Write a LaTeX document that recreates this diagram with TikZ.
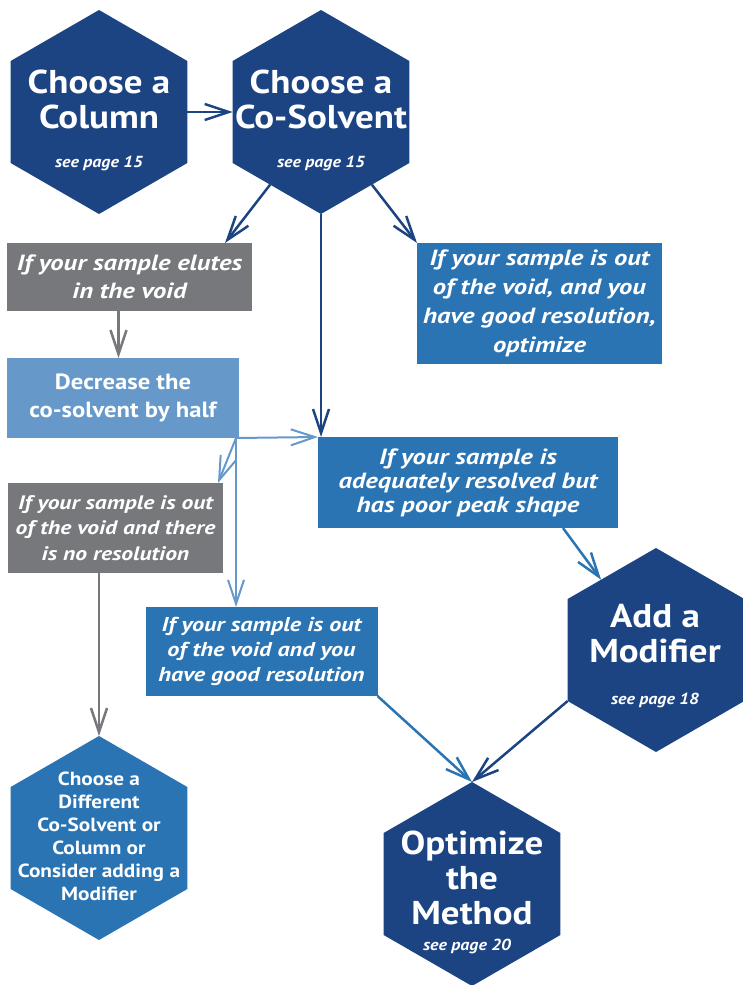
\documentclass[tikz,border=0pt]{standalone}
\usepackage{fontspec}
\setmainfont{PT Sans}[FakeStretch=1.12]
\newfontfamily\condfont{PT Sans}[FakeStretch=1.21]
\usepackage{xcolor}
\usetikzlibrary{shapes.geometric,arrows.meta}

\definecolor{navy}{RGB}{28,68,130}
\definecolor{midblue}{RGB}{43,116,180}
\definecolor{paleblue}{RGB}{102,153,202}
\definecolor{slate}{RGB}{119,120,123}

\tikzset{
  hexcell/.style={regular polygon, regular polygon sides=6, shape border rotate=90,
    minimum size=204pt, inner sep=0pt, outer sep=0pt, fill=#1},
  hexcell/.default=navy,
  hextitle/.style={text=white, align=center, font=\bfseries\fontsize{33}{35}\selectfont},
  hexsmall/.style={text=white, align=center, font=\bfseries\fontsize{19}{23}\selectfont},
  pagenote/.style={text=white, anchor=base, font=\bfseries\itshape\fontsize{16}{18}\selectfont},
  condbox/.style={rectangle, fill=#1, text=white, align=center, inner sep=0pt, outer sep=0pt},
  itxt/.style 2 args={font=\condfont\bfseries\itshape\fontsize{#1}{#2}\selectfont},
  flow/.style={draw=#1, line width=2.5pt, -{Straight Barb[length=24pt,width=16pt]}},
}

\begin{document}
\begin{tikzpicture}[x=1pt, y=-1pt]
\useasboundingbox (0,0) rectangle (743,985);
% the hexagons
\node[hexcell] (column) at (99,112) {};
\node[hexcell] (cosolvent) at (321,112) {};
\node[hexcell] (modifier) at (656,650) {};
\node[hexcell] (method) at (472,884) {};
\node[hexcell=midblue] (different) at (99,838) {};
% their texts
\node[hextitle] (column-txt) at (99,99) {Choose a\\Column};
\node[pagenote] (column-pg) at (99,167) {see page 15};
\node[hextitle] (cosolvent-txt) at (321,99) {Choose a\\Co-Solvent};
\node[pagenote] (cosolvent-pg) at (321,167) {see page 15};
\node[hextitle] (modifier-txt) at (655,634) {Add a\\Modifier};
\node[pagenote] (modifier-pg) at (655,704) {see page 18};
\node[hextitle] (method-txt) at (472,878) {Optimize\\the\\Method};
\node[pagenote] (method-pg) at (467,950) {see page 20};
\node[hexsmall] (different-txt) at (99,836) {Choose a\\Different\\Co-Solvent or\\Column or\\Consider adding a\\Modifier};
% the boxes
\node[condbox=slate, minimum width=245pt, minimum height=68pt, itxt={22}{28}] (elutes) at (129.5,277) {If your sample elutes\\in the void};
\node[condbox=paleblue, minimum width=232pt, minimum height=80pt, font=\bfseries\fontsize{22}{28}\selectfont] (decrease) at (123,398) {Decrease the\\co-solvent by half};
\node[condbox=slate, minimum width=215pt, minimum height=90pt, itxt={19.5}{25.5}] (noresol) at (115.5,528) {If your sample is out\\of the void and there\\is no resolution};
\node[condbox=midblue, minimum width=245pt, minimum height=121pt, itxt={22}{29}] (optbox) at (539.5,303.5) {If your sample is out\\of the void, and you\\have good resolution,\\optimize};
\node[condbox=midblue, minimum width=300pt, minimum height=91pt, itxt={22}{24}] (poorpeak) at (468,482.5) {If your sample is\\adequately resolved but\\has poor peak shape};
\node[condbox=midblue, minimum width=232pt, minimum height=89pt, itxt={20}{25}] (goodres) at (261.5,651.5) {If your sample is out\\of the void and you\\have good resolution};
% arrows out of the first two hexagons
\draw[flow=navy] (column) -- (cosolvent);
\draw[flow=navy] (cosolvent.235) -- ([xshift=-27pt]elutes.north east);
\draw[flow=navy] (cosolvent.305) -- (optbox.north west);
\draw[flow=navy] (cosolvent.south) -- (cosolvent.south |- poorpeak.north);
% the void branch
\draw[flow=slate] ([xshift=-11pt]elutes.south) -- ([xshift=-11pt]elutes.south |- decrease.north);
\coordinate (split) at ([xshift=-3pt]decrease.south east);
\draw[flow=paleblue, line width=2pt] (split) -- (poorpeak.north west);
\draw[flow=paleblue, line width=2pt] (split) -- ([xshift=-5pt]noresol.north east);
\draw[flow=paleblue, line width=2pt] (split) -- (split |- goodres.north);
\draw[flow=slate] (different.north |- noresol.south) -- (different.north);
% towards the method
\draw[flow=midblue] ([xshift=95pt]poorpeak.south) -- (modifier.128);
\draw[flow=midblue] (goodres.south east) -- (method.north);
\draw[flow=navy] (modifier.210) -- (method.north);
\end{tikzpicture}
\end{document}
